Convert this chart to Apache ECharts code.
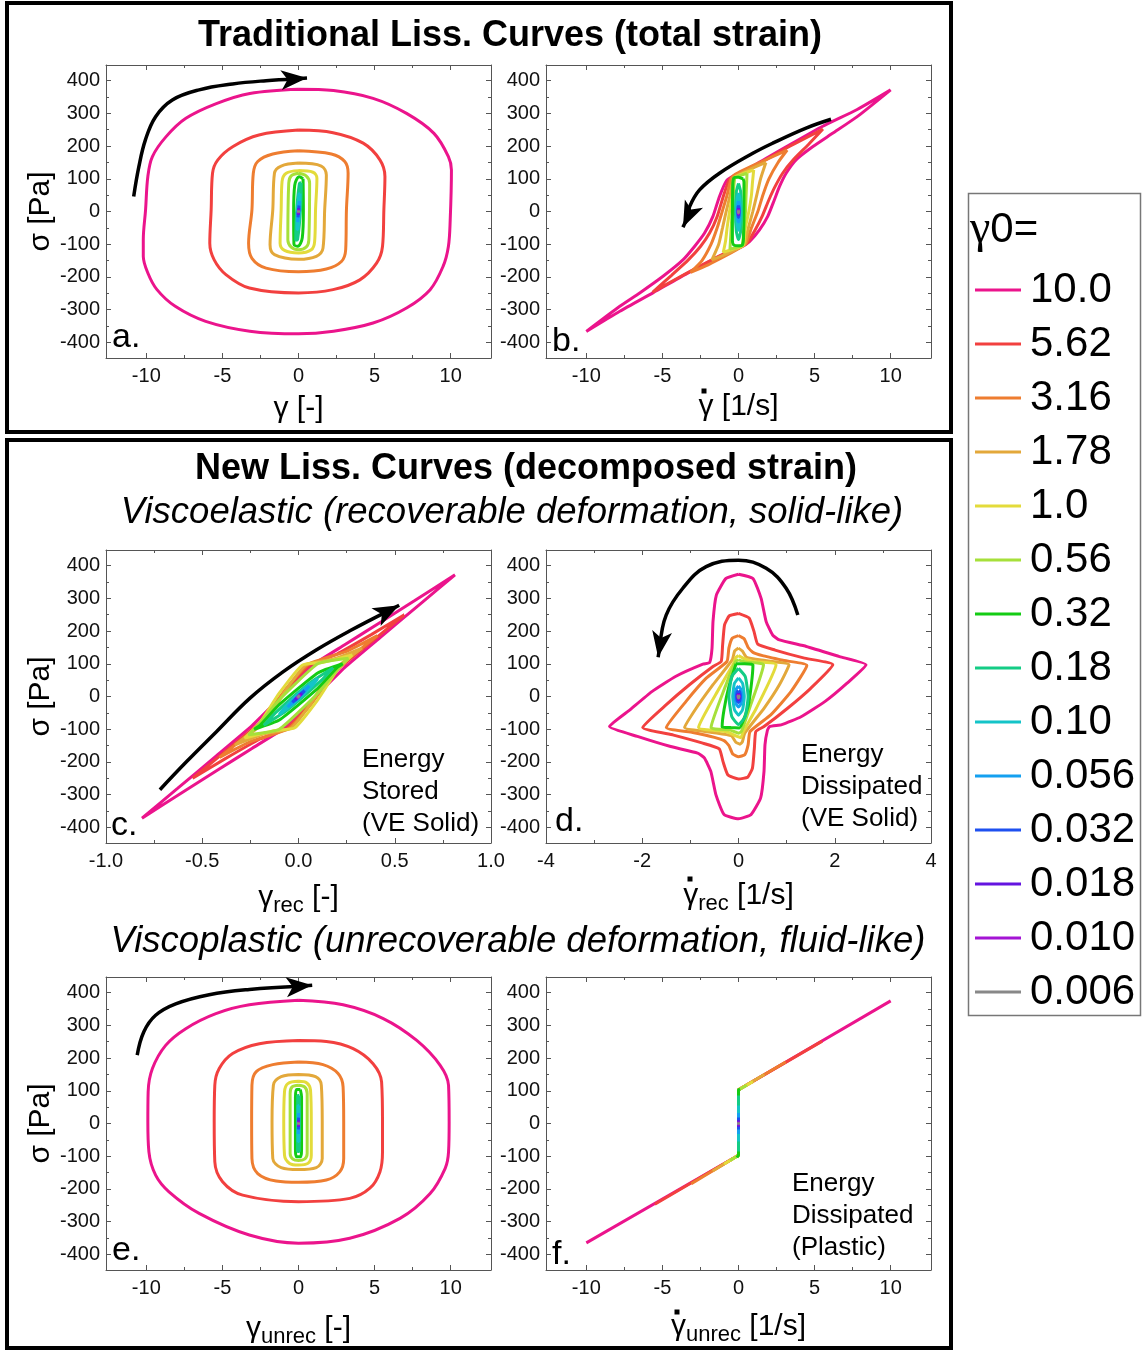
<!DOCTYPE html>
<html><head><meta charset="utf-8">
<script src="https://cdn.jsdelivr.net/npm/echarts@6/dist/echarts.min.js"></script>
<style>html,body{margin:0;padding:0;background:#fff}#c{width:1143px;height:1350px}</style>
</head><body><div id="c"></div>
<script>
// ---------- data ----------
const ampLabels = ['10.0','5.62','3.16','1.78','1.0','0.56','0.32','0.18','0.10','0.056','0.032','0.018','0.010','0.006'];
const lineColors = ['#eb148c','#f2403f','#ee7d30','#e3a83a','#e3db3b','#a6e03a','#14cc14','#14cc85','#14c4c8','#14a0f0','#1e50f0','#6414e0','#a414d4','#888888'];

const yTicks = [-400,-300,-200,-100,0,100,200,300,400];
const yMinorTicks = [-350,-250,-150,-50,50,150,250,350];
const xTicksStrain = [-10,-5,0,5,10];
const xMinorStrain = [-7.5,-2.5,2.5,7.5];
const xTicksRec = [-1,-0.5,0,0.5,1];
const xMinorRec = [-0.75,-0.25,0.25,0.75];
const xTicksRecRate = [-4,-2,0,2,4];
const xMinorRecRate = [-3,-1,1,3];

// a: sigma vs total strain
const panelA = [
 [[0,374],[-3.2,361],[-5.4,330],[-7.4,285],[-8.7,229],[-9.6,168],[-9.9,107],[-10.05,5],[-10.2,-87],[-10.2,-137],[-9.9,-188],[-9.3,-239],[-8.1,-290],[-6.1,-336],[-3.2,-366],[0,-374],[2.3,-366],[4.9,-341],[7.1,-295],[8.65,-239],[9.5,-168],[9.85,-107],[9.97,-25],[10.05,127],[9.85,168],[8.9,239],[7.1,300],[4.9,346],[2.3,370],[0,374]],
 [[0,249],[-2.6,234],[-4.3,199],[-5.3,158],[-5.65,117],[-5.74,5],[-5.83,-97],[-5.54,-148],[-4.77,-193],[-3.23,-234],[0,-249],[2.27,-239],[4.03,-209],[5.13,-158],[5.52,-107],[5.61,5],[5.68,107],[5.35,158],[4.25,209],[2.27,241],[0,249]],
 [[0,186],[-1.69,176],[-2.68,153],[-2.97,117],[-3.06,5],[-3.28,-97],[-3.06,-143],[-2.13,-173],[0,-184],[1.83,-176],[2.82,-153],[3.1,-117],[3.15,5],[3.26,117],[3.04,153],[2.16,176],[0,186]],
 [[0,148],[-1.14,139],[-1.58,117],[-1.69,5],[-1.87,-102],[-1.58,-132],[0,-146],[1.17,-137],[1.61,-112],[1.72,5],[1.83,112],[1.5,139],[0,148]],
 [[0,125],[-0.81,117],[-1.08,92],[-1.14,5],[-1.21,-97],[-0.92,-119],[0,-127],[0.84,-117],[1.06,-92],[1.12,5],[1.21,102],[0.95,120],[0,125]],
 [[0,117],[-0.48,109],[-0.64,87],[-0.7,-87],[-0.48,-109],[0,-117],[0.5,-109],[0.68,-87],[0.73,87],[0.5,109],[0,117]],
 [[0.3,100],[0.05,106],[-0.25,80],[-0.32,0],[-0.3,-100],[-0.05,-106],[0.25,-80],[0.32,0],[0.3,100]],
 [[0.18,88],[0.06,86],[-0.14,-10],[-0.18,-88],[-0.06,-86],[0.14,10],[0.18,88]],
 [[0.1,55],[0.03,53],[-0.08,-8],[-0.1,-55],[-0.03,-53],[0.08,8],[0.1,55]],
 [[0.056,32],[-0.04,-10],[-0.056,-32],[0.04,10],[0.056,32]],
 [[0.032,18],[-0.02,-6],[-0.032,-18],[0.02,6],[0.032,18]],
 [[0.018,10],[-0.01,-3],[-0.018,-10],[0.01,3],[0.018,10]],
 [[0.01,6],[-0.01,-6],[0.01,6]],
 [[0.006,3.5],[-0.006,-3.5],[0.006,3.5]]
];

// b: sigma vs total strain rate
const panelB = [
 [[10,372],[7.8,312],[5.5,260],[3.1,197],[0.9,138],[-0.2,112],[-0.77,95],[-1.25,46],[-1.68,-15],[-2.23,-66],[-2.89,-107],[-3.65,-148],[-4.96,-198],[-6.49,-249],[-7.8,-290],[-10,-367],[-7.8,-305],[-5.6,-248],[-3.4,-190],[-1.25,-137],[0.2,-108],[0.72,-92],[1.38,-56],[1.92,-15],[2.36,36],[2.69,76],[3.13,117],[3.78,158],[4.87,198],[6.18,239],[7.8,290],[10,372]],
 [[5.55,252],[3.1,193],[0.9,134],[-0.2,108],[-0.6,98],[-1.0,46],[-1.4,-15],[-1.9,-66],[-2.5,-107],[-3.3,-148],[-4.4,-195],[-5.65,-247],[-4.4,-214],[-2.5,-166],[-1,-130],[0.3,-104],[0.6,-95],[1.1,-56],[1.55,-15],[2.0,36],[2.4,76],[2.9,117],[3.6,158],[4.6,205],[5.55,252]],
 [[3.2,188],[1.5,152],[0,119],[-0.45,104],[-0.75,50],[-1.07,0],[-1.4,-50],[-1.8,-100],[-2.4,-150],[-3.15,-186],[-2,-163],[-0.5,-127],[0.2,-108],[0.5,-97],[0.85,-50],[1.27,0],[1.6,50],[2.0,100],[2.6,150],[3.2,188]],
 [[1.8,150],[0.7,128],[-0.1,110],[-0.35,102],[-0.55,50],[-0.81,0],[-1.05,-50],[-1.3,-100],[-1.75,-148],[-0.8,-130],[0.1,-110],[0.4,-100],[0.65,-50],[0.94,0],[1.2,50],[1.45,100],[1.8,150]],
 [[1,127],[0.3,116],[-0.25,104],[-0.4,50],[-0.59,0],[-0.75,-50],[-0.85,-90],[-1,-125],[-0.3,-114],[0.3,-104],[0.45,-50],[0.68,0],[0.85,50],[0.92,90],[1,127]],
 [[0.56,117],[0,108],[-0.25,102],[-0.35,40],[-0.41,0],[-0.48,-50],[-0.56,-115],[0,-108],[0.25,-102],[0.38,-40],[0.46,0],[0.5,50],[0.56,117]],
 [[0.3,100],[0,105],[-0.3,103],[-0.38,80],[-0.4,-90],[-0.3,-103],[0,-105],[0.25,-103],[0.33,-80],[0.36,90],[0.3,100]],
 [[0,86],[0.14,61],[0.2,0],[0.14,-61],[0,-86],[-0.14,-61],[-0.2,0],[-0.14,61],[0,86]],
 [[0,57],[0.085,40],[0.12,0],[0.085,-40],[0,-57],[-0.085,-40],[-0.12,0],[-0.085,40],[0,57]],
 [[0,32],[0.05,22],[0.07,0],[0.05,-22],[0,-32],[-0.05,-22],[-0.07,0],[-0.05,22],[0,32]],
 [[0,18],[0.028,13],[0.04,0],[0.028,-13],[0,-18],[-0.028,-13],[-0.04,0],[-0.028,13],[0,18]],
 [[0,10],[0.022,0],[0,-10],[-0.022,0],[0,10]],
 [[0,6],[0.012,0],[0,-6],[-0.012,0],[0,6]],
 [[0,3.5],[0.007,0],[0,-3.5],[-0.007,0],[0,3.5]]
];

// c: sigma vs recoverable strain
const panelC = [
 [[0.813,372],[0.6,292],[0.42,225],[0.24,158],[0.077,97],[-0.08,5],[-0.241,-89],[-0.43,-183],[-0.63,-282],[-0.813,-372],[-0.6,-292],[-0.42,-225],[-0.24,-158],[-0.077,-97],[0.08,-5],[0.241,89],[0.43,183],[0.63,282],[0.813,372]],
 [[0.55,250],[0.38,190],[0.2,130],[0.06,97],[-0.08,10],[-0.2,-80],[-0.38,-168],[-0.55,-250],[-0.38,-190],[-0.2,-130],[-0.06,-97],[0.08,-10],[0.2,80],[0.38,168],[0.55,250]],
 [[0.41,186],[0.25,138],[0.05,98],[-0.07,20],[-0.18,-75],[-0.41,-186],[-0.25,-138],[-0.05,-98],[0.07,-20],[0.18,75],[0.41,186]],
 [[0.33,148],[0.18,114],[0.04,98],[-0.06,25],[-0.17,-75],[-0.33,-148],[-0.18,-114],[-0.04,-98],[0.06,-25],[0.17,75],[0.33,148]],
 [[0.28,127],[0.12,104],[0.02,96],[-0.1,10],[-0.2,-80],[-0.28,-127],[-0.12,-104],[-0.02,-96],[0.1,-10],[0.2,80],[0.28,127]],
 [[0.26,117],[0.1,100],[-0.1,-10],[-0.22,-95],[-0.26,-117],[-0.1,-100],[0.1,10],[0.22,95],[0.26,117]],
 [[0.23,100],[0.1,72],[-0.1,-25],[-0.2,-88],[-0.23,-100],[-0.1,-72],[0.1,25],[0.2,88],[0.23,100]],
 [[0.18,88],[0.06,42],[-0.12,-50],[-0.18,-88],[-0.06,-42],[0.12,50],[0.18,88]],
 [[0.1,55],[0.03,24],[-0.07,-32],[-0.1,-55],[-0.03,-24],[0.07,32],[0.1,55]],
 [[0.056,32],[-0.01,-9],[-0.056,-32],[0.01,9],[0.056,32]],
 [[0.032,18],[-0.005,-5],[-0.032,-18],[0.005,5],[0.032,18]],
 [[0.018,10],[-0.018,-10],[0.018,10]],
 [[0.01,6],[-0.01,-6],[0.01,6]],
 [[0.006,3.5],[-0.006,-3.5],[0.006,3.5]]
];

// d: sigma vs recoverable strain rate
const panelD = [
 [[0,374],[-0.26,361],[-0.46,310],[-0.53,229],[-0.55,148],[-0.6,104],[-0.74,99],[-1.3,62],[-1.8,15],[-2.25,-40],[-2.68,-92],[-2.1,-122],[-1.41,-153],[-0.85,-173],[-0.71,-188],[-0.575,-229],[-0.47,-300],[-0.3,-361],[0,-374],[0.26,-361],[0.46,-310],[0.53,-229],[0.55,-148],[0.6,-104],[0.644,-92],[0.9,-86],[1.3,-62],[1.8,-15],[2.25,40],[2.65,97],[2.1,122],[1.41,153],[0.85,173],[0.71,188],[0.575,229],[0.47,300],[0.3,361],[0,374]],
 [[0,254],[-0.19,247],[-0.29,219],[-0.33,158],[-0.36,107],[-0.53,92],[-1.02,36],[-1.5,-25],[-1.99,-95],[-1.35,-118],[-0.76,-142],[-0.4,-160],[-0.32,-200],[-0.22,-240],[0,-252],[0.19,-247],[0.29,-219],[0.33,-158],[0.36,-107],[0.53,-92],[1.02,-36],[1.5,25],[1.96,97],[1.35,118],[0.76,142],[0.4,160],[0.32,200],[0.22,240],[0,254]],
 [[0,186],[-0.13,178],[-0.2,148],[-0.24,107],[-0.67,56],[-1.09,-15],[-1.5,-95],[-0.95,-110],[-0.5,-125],[-0.3,-135],[-0.2,-150],[-0.12,-176],[0,-184],[0.13,-178],[0.2,-148],[0.24,-107],[0.67,-56],[1.09,15],[1.42,95],[0.95,110],[0.5,125],[0.3,135],[0.2,150],[0.12,176],[0,186]],
 [[0,148],[-0.08,139],[-0.13,112],[-0.53,36],[-0.88,-36],[-1.12,-95],[-0.53,-110],[-0.15,-120],[-0.06,-139],[0.03,-146],[0.08,-139],[0.13,-112],[0.53,-36],[0.85,36],[1.05,97],[0.55,110],[0.17,120],[0.08,139],[0,148]],
 [[0,125],[-0.06,119],[-0.1,102],[-0.4,25],[-0.83,-95],[-0.26,-107],[-0.06,-120],[0.05,-125],[0.1,-107],[0.37,-36],[0.78,97],[0.3,107],[0.1,117],[0,125]],
 [[0,112],[-0.06,107],[-0.26,36],[-0.57,-95],[-0.19,-102],[0,-112],[0.06,-107],[0.23,-36],[0.52,97],[0.16,105],[0,112]],
 [[-0.05,100],[0.12,100],[0.3,97],[0.27,40],[0.2,-30],[0.02,-96],[-0.16,-95],[-0.34,-93],[-0.3,-40],[-0.2,30],[-0.05,100]],
 [[0,86],[0.14,61],[0.2,0],[0.14,-61],[0,-86],[-0.14,-61],[-0.2,0],[-0.14,61],[0,86]],
 [[0,57],[0.085,40],[0.12,0],[0.085,-40],[0,-57],[-0.085,-40],[-0.12,0],[-0.085,40],[0,57]],
 [[0,32],[0.05,22],[0.07,0],[0.05,-22],[0,-32],[-0.05,-22],[-0.07,0],[-0.05,22],[0,32]],
 [[0,18],[0.028,13],[0.04,0],[0.028,-13],[0,-18],[-0.028,-13],[-0.04,0],[-0.028,13],[0,18]],
 [[0,10],[0.022,0],[0,-10],[-0.022,0],[0,10]],
 [[0,6],[0.012,0],[0,-6],[-0.012,0],[0,6]],
 [[0,3.5],[0.007,0],[0,-3.5],[-0.007,0],[0,3.5]]
];

// e: sigma vs unrecoverable strain
const panelE = [
 [[0,377],[-3.23,363],[-5.43,336],[-7.41,290],[-8.73,239],[-9.6,168],[-9.88,97],[-9.9,5],[-9.83,-87],[-9.39,-158],[-8.51,-209],[-6.53,-275],[-3.23,-341],[0,-366],[3.37,-351],[6.67,-290],[8.65,-214],[9.64,-137],[9.86,-87],[9.9,5],[9.86,117],[9.31,178],[7.77,254],[5.57,321],[2.93,363],[0,377]],
 [[0,254],[-2.57,244],[-4.33,214],[-5.21,168],[-5.5,117],[-5.54,5],[-5.5,-117],[-4.99,-178],[-3.67,-219],[0,-239],[3.37,-229],[4.69,-198],[5.35,-148],[5.52,-87],[5.52,5],[5.46,127],[4.9,183],[3.59,229],[1.83,251],[0,254]],
 [[0,188],[-1.69,180],[-2.79,158],[-3.06,117],[-3.08,5],[-3.06,-107],[-2.68,-153],[-1.47,-176],[0,-180],[1.83,-173],[2.71,-148],[2.97,-107],[2.97,5],[2.93,112],[2.6,153],[1.61,180],[0,188]],
 [[0,150],[-1.14,143],[-1.65,117],[-1.74,5],[-1.69,-107],[-1.14,-135],[0,-141],[1.17,-135],[1.56,-107],[1.56,5],[1.5,117],[1.12,143],[0,150]],
 [[0,129],[-0.7,122],[-0.92,97],[-0.97,5],[-0.92,-97],[-0.59,-122],[0,-127],[0.62,-122],[0.84,-97],[0.84,5],[0.79,102],[0.55,124],[0,129]],
 [[0,117],[-0.42,112],[-0.55,92],[-0.55,-92],[-0.37,-109],[0,-113],[0.4,-109],[0.57,-92],[0.57,92],[0.4,112],[0,117]],
 [[0.12,104],[-0.12,104],[-0.2,80],[-0.2,-80],[-0.12,-102],[0.12,-102],[0.2,-80],[0.2,80],[0.12,104]],
 [[0.05,86],[-0.05,86],[-0.06,-86],[0.05,-86],[0.05,86]],
 [[0.03,55],[-0.03,55],[-0.03,-55],[0.03,-55],[0.03,55]],
 [[0.01,32],[-0.01,32],[-0.01,-32],[0.01,-32],[0.01,32]],
 [[0.005,18],[-0.005,-18],[0.005,18]],
 [[0.003,10],[-0.003,-10],[0.003,10]],
 [[0.002,6],[-0.002,-6],[0.002,6]],
 [[0.001,3.5],[-0.001,-3.5],[0.001,3.5]]
];

// f: sigma vs unrecoverable strain rate
const panelF = [
 [[-10,-365],[0,-97],[0,103],[10,375]],
 [[-5.5,-247],[0,-97],[0,103],[5.5,252]],
 [[-3.1,-184],[0,-97],[0,103],[3.1,188]],
 [[-1.7,-145],[0,-97],[0,103],[1.7,150]],
 [[-0.95,-124],[0,-97],[0,103],[0.95,128]],
 [[-0.55,-113],[0,-97],[0,103],[0.55,117]],
 [[-0.1,-104],[0,-97],[0,103],[0.1,105]],
 [[0,-86],[0,86]],
 [[0,-55],[0,55]],
 [[0,-32],[0,32]],
 [[0,-18],[0,18]],
 [[0,-10],[0,10]],
 [[0,-6],[0,6]],
 [[0,-3.5],[0,3.5]]
];

// direction arrows (shaft points, then head segment)
const arrowA = [[-10.83,46],[-10.49,137],[-10.06,219],[-9.39,290],[-8.29,341],[-6.53,372],[-4.33,390],[-2.13,400],[-0.26,405]];
const arrowHeadA = [[-0.26,405],[0.56,408]];
const arrowB = [[6.08,282],[4.44,255],[2.25,209],[0.94,178],[-1.25,117],[-2.56,66],[-3.21,15],[-3.32,-15]];
const arrowHeadB = [[-3.32,-15],[-3.65,-48]];
const arrowC = [[-0.72,-285],[-0.581,-199],[-0.425,-107],[-0.252,-5],[-0.079,76],[0.094,143],[0.267,201],[0.467,262]];
const arrowHeadC = [[0.467,262],[0.523,279]];
const arrowD = [[1.233,249],[0.99,331],[0.575,392],[0,417],[-0.672,397],[-1.157,331],[-1.503,249],[-1.63,158]];
const arrowHeadD = [[-1.63,158],[-1.67,120]];
const arrowE = [[-10.6,209],[-10.17,280],[-9.39,331],[-8.07,366],[-5.87,394],[-3.23,410],[0.07,420]];
const arrowHeadE = [[0.07,420],[0.9,423]];

// ---------- layout / styles ----------
const FF = '"Liberation Sans", Arial, Helvetica, sans-serif';
const grids = [
  {left:106, top:65}, {left:546, top:65},
  {left:106, top:550}, {left:546, top:550},
  {left:106, top:977}, {left:546, top:977}
];
const axisColor = '#555';
const nameRich = {
  m:{fontSize:30, fontFamily:FF, color:'#000'},
  s:{fontSize:22, fontFamily:FF, color:'#000', padding:[16,0,0,0]}
};
const xSpecs = [
  {min:-12.65, max:12.65, major:xTicksStrain, minor:xMinorStrain, name:'{m|γ [-]}', gap:36, dec:0},
  {min:-12.65, max:12.65, major:xTicksStrain, minor:xMinorStrain, name:'{m|γ [1/s]}', gap:34, dec:0},
  {min:-1, max:1, major:xTicksRec, minor:xMinorRec, name:'{m|γ}{s|rec}{m| [-]}', gap:36, dec:1},
  {min:-4, max:4, major:xTicksRecRate, minor:xMinorRecRate, name:'{m|γ}{s|rec}{m| [1/s]}', gap:34, dec:0},
  {min:-12.65, max:12.65, major:xTicksStrain, minor:xMinorStrain, name:'{m|γ}{s|unrec}{m| [-]}', gap:40, dec:0},
  {min:-12.65, max:12.65, major:xTicksStrain, minor:xMinorStrain, name:'{m|γ}{s|unrec}{m| [1/s]}', gap:38, dec:0}
];

const xAxis = [], yAxis = [];
grids.forEach((g, i) => {
  const s = xSpecs[i];
  const bx = {gridIndex:i, type:'value', min:s.min, max:s.max, splitLine:{show:false}};
  xAxis.push(Object.assign({}, bx, {
    position:'bottom',
    axisLine:{show:true, onZero:false, lineStyle:{color:axisColor, width:1}},
    axisTick:{show:true, inside:true, length:5, customValues:s.major, lineStyle:{color:axisColor}},
    axisLabel:{show:true, customValues:s.major, margin:8, fontSize:20, fontFamily:FF, color:'#111',
      formatter: v => s.dec ? Number(v).toFixed(s.dec) : String(v)},
    name:s.name, nameLocation:'middle', nameGap:s.gap,
    nameTextStyle:{fontSize:30, fontFamily:FF, color:'#000', rich:nameRich}
  }));
  xAxis.push(Object.assign({}, bx, {
    position:'top',
    axisLine:{show:true, onZero:false, lineStyle:{color:axisColor, width:1}},
    axisTick:{show:true, inside:true, length:5, customValues:s.major, lineStyle:{color:axisColor}},
    axisLabel:{show:false}
  }));
  xAxis.push(Object.assign({}, bx, {
    position:'bottom', axisLine:{show:false, onZero:false},
    axisTick:{show:true, inside:true, length:3, customValues:s.minor, lineStyle:{color:axisColor}},
    axisLabel:{show:false}
  }));
  xAxis.push(Object.assign({}, bx, {
    position:'top', axisLine:{show:false, onZero:false},
    axisTick:{show:true, inside:true, length:3, customValues:s.minor, lineStyle:{color:axisColor}},
    axisLabel:{show:false}
  }));
  const by = {gridIndex:i, type:'value', min:-448, max:448, splitLine:{show:false}};
  const leftCol = (i % 2 === 0);
  yAxis.push(Object.assign({}, by, {
    position:'left',
    axisLine:{show:true, onZero:false, lineStyle:{color:axisColor, width:1}},
    axisTick:{show:true, inside:true, length:5, customValues:yTicks, lineStyle:{color:axisColor}},
    axisLabel:{show:true, customValues:yTicks, margin:6, fontSize:20, fontFamily:FF, color:'#111'},
    name: leftCol ? 'σ [Pa]' : '', nameLocation:'middle', nameGap:50,
    nameTextStyle:{fontSize:30, fontFamily:FF, color:'#000'}
  }));
  yAxis.push(Object.assign({}, by, {
    position:'right',
    axisLine:{show:true, onZero:false, lineStyle:{color:axisColor, width:1}},
    axisTick:{show:true, inside:true, length:5, customValues:yTicks, lineStyle:{color:axisColor}},
    axisLabel:{show:false}
  }));
  yAxis.push(Object.assign({}, by, {
    position:'left', axisLine:{show:false, onZero:false},
    axisTick:{show:true, inside:true, length:3, customValues:yMinorTicks, lineStyle:{color:axisColor}},
    axisLabel:{show:false}
  }));
  yAxis.push(Object.assign({}, by, {
    position:'right', axisLine:{show:false, onZero:false},
    axisTick:{show:true, inside:true, length:3, customValues:yMinorTicks, lineStyle:{color:axisColor}},
    axisLabel:{show:false}
  }));
});

const panels = [panelA, panelB, panelC, panelD, panelE, panelF];
const smoothBy = [0.35, 0.2, 0.15, 0.15, 0.35, false];
const series = [];
panels.forEach((p, gi) => {
  p.forEach((curve, ci) => {
    series.push({
      type:'line', name:ampLabels[ci], xAxisIndex:gi*4, yAxisIndex:gi*4,
      data:curve, showSymbol:false, symbol:'none', smooth:smoothBy[gi],
      color:lineColors[ci], lineStyle:{color:lineColors[ci], width:3},
      silent:true, z:2
    });
  });
});
const arrows = [
  [0, arrowA, arrowHeadA], [1, arrowB, arrowHeadB], [2, arrowC, arrowHeadC],
  [3, arrowD, arrowHeadD], [4, arrowE, arrowHeadE]
];
arrows.forEach(([gi, shaft, head]) => {
  series.push({type:'line', xAxisIndex:gi*4, yAxisIndex:gi*4, data:shaft, smooth:0.4,
    showSymbol:false, symbol:'none', lineStyle:{color:'#000', width:3.5}, silent:true, z:5});
  series.push({type:'lines', coordinateSystem:'cartesian2d', xAxisIndex:gi*4, yAxisIndex:gi*4,
    data:[{coords:head}], symbol:['none','arrow'], symbolSize:[0,[15,26]],
    lineStyle:{color:'#000', width:3.5, opacity:1}, silent:true, z:5});
});

function txt(text, x, y, opts) {
  return Object.assign({type:'text', x:x, y:y, silent:true, style:Object.assign({
    text:text, fontFamily:FF, fontSize:26, fill:'#000',
    align:'left', textAlign:'left', verticalAlign:'middle', textVerticalAlign:'middle'
  }, opts || {})});
}
// small square "dot" accents over the rate symbols in the axis titles
function dot(x, y) {
  return {type:'rect', shape:{x:x-2.5, y:y-2.5, width:5, height:5}, style:{fill:'#000'}, silent:true, z:10};
}
const graphic = [
  {type:'rect', shape:{x:7, y:3, width:944, height:429}, style:{fill:'none', stroke:'#000', lineWidth:4}, silent:true},
  {type:'rect', shape:{x:7, y:440, width:944, height:908}, style:{fill:'none', stroke:'#000', lineWidth:4}, silent:true},
  {type:'rect', shape:{x:968.5, y:193.5, width:172, height:822}, style:{fill:'none', stroke:'#777', lineWidth:1.5}, silent:true},
  txt('Traditional Liss. Curves (total strain)', 510, 36, {fontSize:36, fontWeight:'bold', align:'center', textAlign:'center'}),
  txt('New Liss. Curves (decomposed strain)', 526, 469, {fontSize:36, fontWeight:'bold', align:'center', textAlign:'center'}),
  txt('Viscoelastic (recoverable deformation, solid-like)', 512, 513, {fontSize:36.5, fontStyle:'italic', align:'center', textAlign:'center'}),
  txt('Viscoplastic (unrecoverable deformation, fluid-like)', 518, 942, {fontSize:36.5, fontStyle:'italic', align:'center', textAlign:'center'}),
  txt('a.', 112, 338, {fontSize:34}),
  txt('b.', 552, 342, {fontSize:34}),
  txt('c.', 111, 826, {fontSize:34}),
  txt('d.', 555, 822, {fontSize:34}),
  txt('e.', 112, 1251, {fontSize:34}),
  txt('f.', 552, 1255, {fontSize:34}),
  txt('Energy\nStored\n(VE Solid)', 362, 744, {fontSize:26, lineHeight:32, verticalAlign:'top', textVerticalAlign:'top'}),
  txt('Energy\nDissipated\n(VE Solid)', 801, 739, {fontSize:26, lineHeight:32, verticalAlign:'top', textVerticalAlign:'top'}),
  txt('Energy\nDissipated\n(Plastic)', 792, 1168, {fontSize:26, lineHeight:32, verticalAlign:'top', textVerticalAlign:'top'}),
  txt('{g|γ}0=', 970, 230, {fontSize:42, rich:{g:{fontFamily:'"Liberation Serif", "DejaVu Serif", serif', fontSize:46, fill:'#000'}}}),
  dot(704, 391),
  dot(690, 879),
  dot(677, 1312)
];

const option = {
  animation:false,
  backgroundColor:'#fff',
  grid: grids.map(g => ({left:g.left, top:g.top, width:385, height:293, containLabel:false})),
  xAxis: xAxis,
  yAxis: yAxis,
  legend: {
    orient:'vertical', left:970, top:264, itemWidth:46, itemHeight:3, itemGap:12,
    icon:'rect', selectedMode:false, data:ampLabels,
    textStyle:{fontSize:42, lineHeight:42, fontFamily:FF, color:'#000', padding:[0,0,0,4]}
  },
  graphic: graphic,
  series: series
};
const chart = echarts.init(document.getElementById('c'), null, {renderer:'canvas'});
chart.setOption(option);
</script></body></html>
